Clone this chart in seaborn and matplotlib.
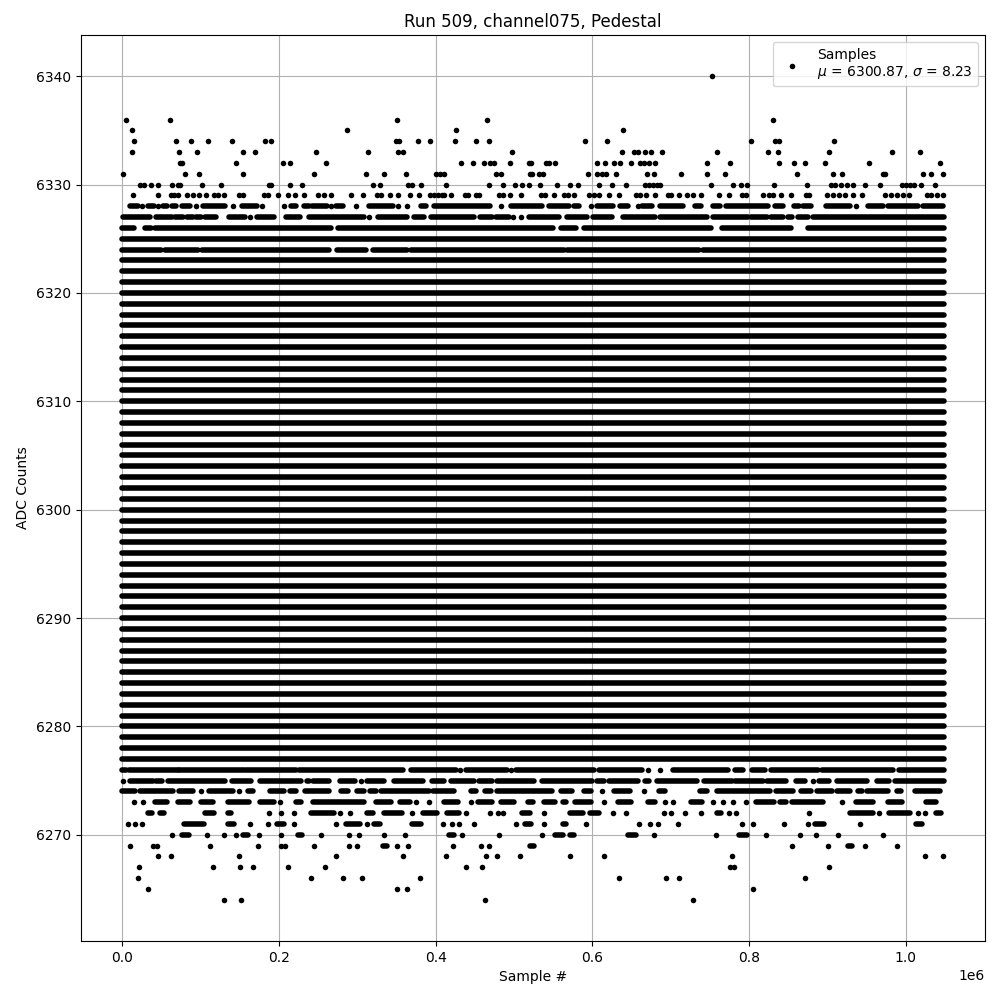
import numpy as np
import pandas as pd
import matplotlib
matplotlib.use("Agg")
import matplotlib.pyplot as plt
import seaborn as sns

# run info
run_number = 509
channel = "channel075"
n_samples = 1048576
mu = 6300.87
sigma = 8.23

# ADC codes that are filled over the whole run
full_codes = list(range(6277, 6324)) + [6325]

# partly filled / sparse codes, positions in thousands of samples
# a number is one sample, a tuple (start, end) is a run of back-to-back samples
end = 1048.575
adc_6340 = [753]
adc_6336 = [5.5, 61.6, 350.7, 465.4, 831]
adc_6335 = [13.2, 287, 425.9, 638.6]
adc_6334 = [15.7, 69.2, 88.3, 110, 140.6, 182.6, 190.2, 349.5, 353.3, 377.5, 392.8, 424.6, 451.4,
            467.9, 590.2, 618.2, 803, 833.5, 838.6, 908.7]
adc_6333 = [13.2, 73, 96, 154.6, 169.9, 247.6, 313.8, 352, 358.4, 497.2, 637.3, 652.6, 657.7, 666.6,
            674.3, 688.3, 759.6, 824.6, 837.3, 902.3, 982.5, 1018.2]
adc_6332 = [74.3, 76.9, 145.7, 205.5, 214.4, 260, 432.3, 447.5, 461.5, 469.2, 474.3, 494.7, 518.9,
            521.4, 540.5, 544.4, 552, 605.5, 615.7, 627.2, 634.8, 648.8, 660.3, 665.4, 671.7, 679.4,
            746.9, 776.2, 838.6, 857.7, 871.7, 897.2, 953.2, 1043.7]
adc_6331 = [1.7, 80.7, 98.5, 154.6, 245, 311.2, 334.2, 362.2, 400.4, 405.5, 410.6, 476.8, 483.2, 520.1,
            522.7, 531.6, 536.7, 594, 605.5, 611.9, 617, 629.7, 669.2, 678.1, 712.5, 746.9, 769.8,
            861.5, 907.4, 918.9, 971, 973.6, 1022, 1032.2, 1047.5]
adc_6330 = [23.4, 28.5, 37, 46.3, 64.1, 71.8, 74.3, 102.3, 126.5, 187.7, 190.2, 214.4, 229.7, 320.2,
            329.1, 364.7, 369.8, 381.3, 413.2, 467.9, 485.8, 501, 510, 518.9, 532.9, 554.5, 571.1,
            581.3, 608, 624.6, 642.4, 666.6, 671.7, 676.8, 681.9, 685.7, 752, 780, 790.2, 797.8,
            832.2, 874.3, 904.8, 909.9, 917.6, 925.2, 932.9, 948.2, 967.3, 995.3, 1000.4, 1005.5,
            1010.6, 1019.5, 1037.3]
adc_6329 = [14.4, 46.3, 62.9, 66.7, 71.8, 83.2, 90.9, 98.5, 107.4, 117.6, 122.7, 130.4, 149.5, 154.6,
            181.3, 186.4, 199.2, 211.9, 220.8, 232.3, 250.1, 257.7, 266.7, 292.1, 307.4, 325.3, 330.4,
            341.8, 352, 367.3, 378.8, 392.8, 397.9, 403, 408, 410.6, 419.5, 437.3, 441.2, 451.4, 455.2,
            480.7, 485.8, 494.7, 508.7, 534.2, 539.3, 550.7, 563.5, 568.6, 576.2, 595.7, 601.7, 608,
            620.8, 633.5, 655.2, 660.3, 667.9, 679.4, 696, 701, 711.2, 721.4, 729, 739.2, 762.2, 774.9,
            791.5, 796.6, 818.2, 825.9, 831, 841.2, 853.9, 873, 876.8, 899.7, 907.4, 915, 922.7, 932.9,
            944.3, 973.6, 981.3, 988.9, 996.6, 1004.2, 1027.1, 1032.2, 1039.9, 1047.5]
adc_6328 = [(10.6, 20), 25.9, (33.6, 41.2), 46.3, (52.7, 57.8), (64.1, 69.2), (76.9, 87.1), 94.7,
            (103.6, 131.6), 141.8, (153.3, 172.4), 178.8, 206.8, (215.7, 222.1), (232.3, 238.6),
            (242.5, 261.6), 266.7, (273, 282), 298.5, (315.1, 345.6), 352, 363.5, (381.3, 387.7),
            (397.9, 469.2), 483.2, (496, 535.4), (544.4, 569.8), (576.2, 582.6), 597.9, (605.5, 625.9),
            (634.8, 645), 657.7, (662.8, 675.6), (685.7, 716.3), (731.6, 739.2), (754.5, 763.4),
            (771.1, 824.6), (833.5, 843.7), (857.7, 864.1), (869.2, 879.4), (898.5, 929), 936.7,
            (952, 971), (977.4, 1015.7), (1022, 1047.5)]
adc_6327 = [(1.7, 36.1), (43.7, 64.1), (68, 78.1), (83.2, 90.9), (94.7, 101.1), (106.2, 120.2),
            (136.7, 157.1), 163.5, (172.4, 194), (209.3, 227.2), (238.6, 308.7), 315.1, (326.5, 363.5),
            (372.4, 385.1), (394, 448.8), (456.5, 471.7), (476.8, 493.4), 498.5, 508.7, (518.9, 557.1),
            (567.3, 592.8), (600.4, 624.6), (638.6, 679.4), (685.7, 746.9), (754.5, 799), (803, 823.3),
            (828.4, 843.7), (850.1, 855.2), (862.8, 875.5), (881.9, end)]
adc_6326 = [(0, 15.7), (29.7, 37), (42.5, 266.7), (275.6, 549.4), (559.6, 578.7), (588.9, 752),
            (766, 853.9), (875.5, end)]
adc_6324 = [(0, 49.7), (55.2, 97.2), (102.3, 264.1), (274.3, 311.2), (320.2, 363.5), (368.6, 563.5),
            (567.3, 736.7), (741.8, end)]
adc_6276 = [(0, 4.8), (9.4, 71), (73, 156), (158, 222), (226, 358.4), (368.6, 425.9), 431,
            (438.6, 491.3), 496, (502.3, 601.7), (608, 662.8), 670.5, 685.7, (702.3, 773.6),
            (782.6, 792.7), (804.2, 820.8), (828.4, 888.3), (893.4, 983.8), (991.5, end)]
adc_6275 = [1.7, (10.6, 39.9), (43.7, 51.4), (59, 131.6), (140.6, 164.8), (176.2, 219.5), (222.1, 228.9),
            (236, 238.6), (243.7, 264.1), (278.1, 297.2), 304.9, (312.5, 334.2), (346.9, 383.9),
            (395.3, 410.6), (419.5, 448.8), (455.2, 471.7), (478.1, 525.2), (535.4, 599.1),
            (605.5, 614.4), (620.8, 657.7), (666.6, 671.7), (681.9, 734.1), (743.1, 778.7),
            (782.6, 818.2), (823.3, 847.5), (860.3, 871.7), 881.9, (889.6, 902.3), (912.5, 950.7),
            (963.4, 978.7), (986.4, end)]
adc_6274 = [(0.4, 17), (23.4, 65.4), (73, 90.9), 101.1, (111.3, 141.8), 149.5, (160.9, 167.3),
            (189, 206.8), (214.4, 222.1), (233.5, 264.1), (279.4, 288.3), (299.8, 308.7), (316.3, 324),
            (330.4, 391.5), (396.6, 423.3), (445, 451.4), (462.8, 470.9), (478.1, 548.2), (559.6, 573.6),
            (588.9, 597.9), 611.9, (627.2, 647.5), 665.4, (684.5, 692.1), (738, 746.9), (759.6, 827.1),
            (834.8, 856.4), (866.6, 879.4), (887, 906.1), (912.5, 929), (939.2, 944.3), (950.7, 977.4),
            (988.9, 994), (1011.8, 1043.7)]
adc_6273 = [15.7, 27.2, (42.5, 57.8), (71.8, 87.1), (101.1, 116.4), (135.5, 162.2), (176.2, 194), 201.7,
            (222.1, 228.4), (243.7, 308.7), (324, 343.1), (354.6, 367.3), 374.9, 391.5, (410.6, 428.4),
            445, (453.9, 471.7), (483.2, 499.8), (517.6, 524), (538, 552), (562.2, 566), (577.5, 597.9),
            614.4, (632.2, 648.8), (670.5, 679.4), 692.1, 702.3, (726.5, 740.5), 754.5, 767.3, 780,
            796.6, (809.3, 832.2), (839.9, 847.5), (855.2, 894.6), 918.9, (936.7, 958.3),
            (977.4, 995.3), (1025.9, 1038.6)]
adc_6272 = [(33.6, 38.6), (48.8, 53.9), (106.2, 117.6), (135.5, 139.3), 187.7, 203, 219.5, (241.2, 270.5),
            278.1, 290.9, (312.5, 320.2), (334.2, 357.1), 369.8, (383.9, 401.7), (414.4, 429.7), 438.6,
            469.2, 479.4, 485.8, (510, 520.1), 538, (571.1, 587.7), (596.6, 608), 625.9, 642.4, 690.8,
            701, 717.6, 739.2, (759.6, 764.7), 774.9, 783.8, 876.8, (929, 958.3), 966, (978.7, 1005.5),
            1015.7, 1024.6, (1038.6, 1045)]
adc_6271 = [8.1, 17, 25.9, (79.4, 104.9), (135.5, 143.1), 163.5, 186.4, (197.9, 206.8), 219.5, 273,
            (285.8, 303.6), 312.5, (321.4, 329.1), (369.8, 381.3), 409.3, 420.8, 429.7, 448.8, 502.3,
            (513.8, 521.4), 538, (562.2, 566), 591.5, 659, 673, 683.2, 708.7, 791.5, 805.5, 845, 875.5,
            (884.5, 895.9), 941.8, (1013.1, 1020.8)]
adc_6270 = [64.1, (76.9, 85.8), 108.7, 130.4, 145.7, (154.6, 160.9), 174.9, 203, (224.6, 229.7), 253.9,
            289.6, 302.3, 334.2, 360.9, (417, 423.3), 433.5, 480.7, 535.4, (552, 562.2), (571.1, 576.2),
            (645, 655.2), 678.1, 758.4, (787.7, 797.8), 822, 865.4, 885.7, 913.8, 971]
adc_6269 = [10.6, 39.9, 45, 112.5, 173.7, 203, 208.1, 245, 289.6, 299.8, (332.9, 338), 350.7, 364.7,
            422.1, 457.7, 467.9, (520.1, 525.2), 855.2, 901, (926.5, 931.6), 948.2, 988.9]
adc_6268 = [46.3, 62.9, 149.5, 273, 358.4, 413.2, 464.1, 478.1, 507.4, 571.1, 614.4, 778.7, 1024.6, 1047.5]
adc_6267 = [22.1, 116.4, 150.8, 167.3, 211.9, 259, 438.6, 459, 776.2, 781.3, 902.3]
adc_6266 = [20.8, 241.2, 282, 306.1, 380, 633.5, 693.4, 711.2, 871.7]
adc_6265 = [33.6, 350.7, 363.5, 805.5]
adc_6264 = [130.4, 152, 462.8, 729]

partial_codes = {
    6340: adc_6340, 6336: adc_6336, 6335: adc_6335, 6334: adc_6334, 6333: adc_6333,
    6332: adc_6332, 6331: adc_6331, 6330: adc_6330, 6329: adc_6329, 6328: adc_6328,
    6327: adc_6327, 6326: adc_6326, 6324: adc_6324, 6276: adc_6276, 6275: adc_6275,
    6274: adc_6274, 6273: adc_6273, 6272: adc_6272, 6271: adc_6271, 6270: adc_6270,
    6269: adc_6269, 6268: adc_6268, 6267: adc_6267, 6266: adc_6266, 6265: adc_6265,
    6264: adc_6264,
}

# split into single samples and runs
pts_x, pts_y = [], []
seg_y, seg_x0, seg_x1 = [], [], []
for code in full_codes:
    seg_y.append(code)
    seg_x0.append(0)
    seg_x1.append(n_samples - 1)
for code, items in partial_codes.items():
    for it in items:
        if isinstance(it, tuple):
            seg_y.append(code)
            seg_x0.append(it[0] * 1000)
            seg_x1.append(it[1] * 1000)
        else:
            pts_x.append(it * 1000)
            pts_y.append(code)

samples_df = pd.DataFrame({"sample": pts_x, "adc": pts_y})

fig, ax = plt.subplots(figsize=(10, 10), dpi=100)
fig.subplots_adjust(left=0.081, right=0.985, top=0.965, bottom=0.059)

label = "Samples\n$\\mu$ = %.2f, $\\sigma$ = %.2f" % (mu, sigma)
sns.scatterplot(data=samples_df, x="sample", y="adc", ax=ax, color="k", marker="o",
                s=16, linewidth=0, zorder=2, label=label)
ax.hlines(seg_y, seg_x0, seg_x1, colors="k", linewidth=4, capstyle="round", zorder=2)

ax.set_xlim(-0.05 * n_samples, 1.05 * n_samples)
ax.set_ylim(6264 - 3.8, 6340 + 3.8)
ax.grid(True)
ax.set_title("Run %d, %s, Pedestal" % (run_number, channel))
ax.set_xlabel("Sample #")
ax.set_ylabel("ADC Counts")
ax.legend(loc="upper right")

fig.savefig("out.png", dpi=100)
